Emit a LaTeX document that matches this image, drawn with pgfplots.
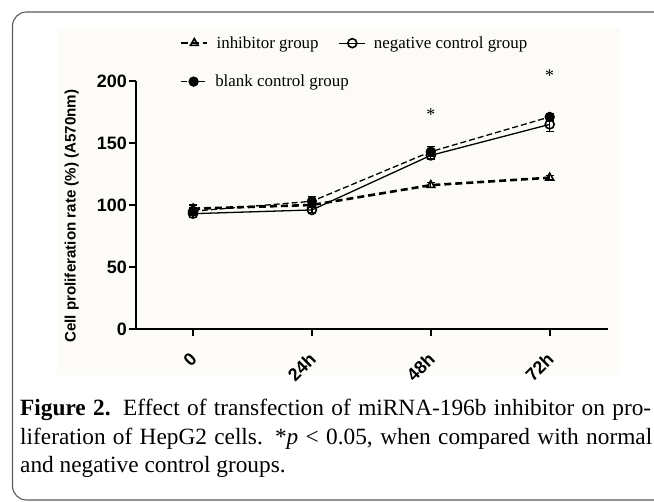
\documentclass[border=0pt]{standalone}
\usepackage{pgfplots}
\pgfplotsset{compat=1.18}
\usepackage{fontspec}
\setmainfont{Liberation Serif}
\setsansfont{Liberation Sans}
\definecolor{bgc}{HTML}{FCFBF8}
\definecolor{framec}{HTML}{5A5A5A}
\pgfplotsset{
  common/.style={
    at={(193bp,173bp)}, anchor=origin, scale only axis,
    width=472bp, height=248bp,
    xmin=-0.48, xmax=3.49, ymin=0, ymax=200,
    clip=false,
    legend image code/.code={\draw[mark repeat=2,mark phase=2,##1] plot coordinates {(0bp,0bp) (13bp,0bp) (26bp,0bp)};},
    error bars/error bar style={line width=1.3bp, solid},
    error bars/error mark options={rotate=90, mark size=4bp, line width=1.3bp},
  },
  leg/.style={legend style={draw=none, fill=none, anchor=west, inner sep=2bp,
     font=\rmfamily\fontsize{17}{17}\selectfont,
     /tikz/every odd column/.append style={column sep=6bp},
     /tikz/every even column/.append style={column sep=18bp},
     cells={anchor=west}}},
}
\begin{document}
\begin{tikzpicture}[x=1bp,y=1bp]
\path[use as bounding box] (0,0) rectangle (654,502);
\begin{scope}
\clip (0,0) rectangle (654,502);
\draw[framec, line width=1.1bp, rounded corners=14bp] (12.5,2) rectangle (720,490);
\end{scope}
\fill[bgc] (57,127) rectangle (620,474);
\begin{axis}[common, leg,
  axis x line=bottom, axis y line=left,
  axis line style={line width=2.2bp, -},
  xtick={0,1,2,3}, xticklabels={0,24h,48h,72h},
  ytick={0,50,100,150,200},
  tick style={line width=2bp, black},
  tick align=outside, major tick length=7bp,
  /pgf/number format/assume math mode=true,
  tick label style={font=\sffamily\bfseries\fontsize{18}{18}\selectfont},
  xticklabel style={rotate=45, anchor=north east, inner sep=1bp, xshift=-12.5bp, yshift=-7bp},
  yticklabel style={inner sep=2bp},
  ylabel={Cell proliferation rate (\%) (A570nm)},
  ylabel style={font=\sffamily\bfseries\fontsize{15.2}{15.2}\selectfont,
     at={(axis description cs:-0.136,0.455)}, anchor=center, rotate=0},
  legend columns=2,
  legend style={at={(axis cs:-0.128,230.5)}},
]
\addplot[black, line width=2.6bp, dash pattern=on 7bp off 4bp, mark=triangle, mark size=4.5bp,
  mark options={solid, fill=white, line width=1.6bp},
  error bars/.cd, y dir=both, y explicit]
  coordinates {(0,97) +- (0,3) (1,100) +- (0,2) (2,116) +- (0,2) (3,122) +- (0,2)};
\addlegendentry{inhibitor group}
\addplot[black, line width=1.3bp, mark=o, mark size=4.5bp,
  mark options={solid, fill=white, line width=1.6bp},
  error bars/.cd, y dir=both, y explicit]
  coordinates {(0,93) +- (0,3) (1,96) +- (0,2) (2,140) +- (0,3) (3,165) +- (0,6)};
\addlegendentry{negative control group}
\node[font=\rmfamily\fontsize{18}{18}\selectfont] at (axis cs:2,173) {*};
\node[font=\rmfamily\fontsize{18}{18}\selectfont] at (axis cs:3,204) {*};
\end{axis}
\begin{axis}[common, leg, hide axis,
  legend style={at={(axis cs:-0.128,199.5)}},
]
\addplot[black, line width=1.3bp, dash pattern=on 6bp off 3bp, mark=*, mark size=4.5bp,
  mark options={solid},
  error bars/.cd, y dir=both, y explicit]
  coordinates {(0,95) +- (0,3) (1,103) +- (0,4) (2,143) +- (0,4) (3,171) +- (0,3)};
\addlegendentry{blank control group}
\end{axis}
\node[anchor=base west, inner sep=0, font=\fontsize{23.4}{23.4}\selectfont] at (20,86) {\makebox[631bp][s]{\textbf{Figure 2.} Effect of transfection of miRNA-196b inhibitor on pro-}};
\node[anchor=base west, inner sep=0, font=\fontsize{23.4}{23.4}\selectfont] at (20,57.5) {\makebox[632bp][s]{liferation of HepG2 cells. *\textit{p} {\textless} 0.05, when compared with normal}};
\node[anchor=base west, inner sep=0, font=\fontsize{23.4}{23.4}\selectfont] at (20,29) {and negative control groups.};
\end{tikzpicture}
\end{document}
